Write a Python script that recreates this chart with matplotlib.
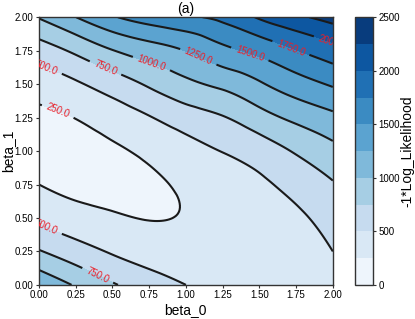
import numpy as np
import matplotlib
matplotlib.use("Agg")
import matplotlib.pyplot as plt
import matplotlib.tri as mtri

# ---- data (grid of -1*log-likelihood values) ----
beta_0 = [0.0, 0.25, 0.5, 0.75, 1.0, 1.25, 1.5, 1.75, 2.0]
beta_1 = [0.0, 0.25, 0.5, 0.75, 1.0, 1.25, 1.5, 1.75, 2.0]
# one row per beta_1 value, one column per beta_0 value
nll_b1_000 = [1205, 975, 775, 627, 500, 428, 393, 400, 450]
nll_b1_025 = [768, 610, 475, 381, 332, 324, 350, 402, 500]
nll_b1_050 = [450, 342, 277, 243, 261, 302, 370, 458, 590]
nll_b1_075 = [250, 194, 191, 215, 286, 364, 455, 580, 730]
nll_b1_100 = [167, 165, 219, 295, 407, 507, 620, 775, 930]
nll_b1_125 = [203, 256, 361, 485, 626, 734, 900, 1060, 1190]
nll_b1_150 = [356, 467, 618, 784, 940, 1060, 1220, 1390, 1530]
nll_b1_175 = [627, 797, 990, 1130, 1256, 1430, 1570, 1740, 1900]
nll_b1_200 = [1016, 1247, 1473, 1620, 1720, 1810, 2030, 2200, 2340]
levels = [0, 250, 500, 750, 1000, 1250, 1500, 1750, 2000, 2250, 2500]
cbar_ticks = [0, 500, 1000, 1500, 2000, 2500]

# where the contour labels sit (layout only)
label_spots = [(0.129, 1.30), (0.048, 1.626), (0.046, 0.424), (0.46, 1.64),
               (0.40, 0.072), (0.772, 1.675), (1.088, 1.713), (1.437, 1.731),
               (1.714, 1.769), (1.995, 1.80)]

Z = np.array([nll_b1_000, nll_b1_025, nll_b1_050, nll_b1_075, nll_b1_100,
              nll_b1_125, nll_b1_150, nll_b1_175, nll_b1_200], dtype=float)
B0, B1 = np.meshgrid(beta_0, beta_1)

plt.rcParams["font.family"] = ["Liberation Sans", "DejaVu Sans"]

fig = plt.figure(figsize=(4.15, 3.19), dpi=100)
ax = fig.add_axes([0.094, 0.107, 0.708, 0.839])
cax = fig.add_axes([0.856, 0.107, 0.043, 0.839])

tri = mtri.Triangulation(B0.ravel(), B1.ravel())
refiner = mtri.UniformTriRefiner(tri)
tri_f, z_f = refiner.refine_field(Z.ravel(), subdiv=4)

cf = ax.tricontourf(tri_f, z_f, levels=levels, cmap="Blues")
cs = ax.tricontour(tri_f, z_f, levels=levels[1:-1], colors="#1a1a1a", linewidths=1.5)
labels = ax.clabel(cs, fmt="%1.1f", fontsize=7, colors="#e8202a", inline=True,
                   manual=label_spots)
for t in labels:
    t.set_clip_on(True)
    t.set_clip_path(ax.patch)

ax.set_xlim(0, 2)
ax.set_ylim(0, 2)
ax.set_xticks(beta_0)
ax.set_yticks(beta_1)
ax.set_xticklabels([f"{v:.2f}" for v in beta_0])
ax.set_yticklabels([f"{v:.2f}" for v in beta_1])
ax.tick_params(labelsize=7, length=2.5, width=0.8, color="#333333", pad=1.5)
for s in ax.spines.values():
    s.set_color("#333333")
    s.set_linewidth(1.0)
ax.set_xlabel("beta_0", fontsize=10, labelpad=2)
ax.set_ylabel("beta_1", fontsize=10, labelpad=0)
ax.set_title("(a)", fontsize=10, pad=3)

cb = fig.colorbar(cf, cax=cax, ticks=cbar_ticks)
cb.outline.set_edgecolor("#333333")
cb.outline.set_linewidth(1.0)
cb.ax.tick_params(labelsize=7, length=2.5, width=0.8, color="#333333", pad=1.5)
cb.set_label("-1*Log_Likelihood", fontsize=10, labelpad=0)

fig.savefig("out.png", dpi=100)
